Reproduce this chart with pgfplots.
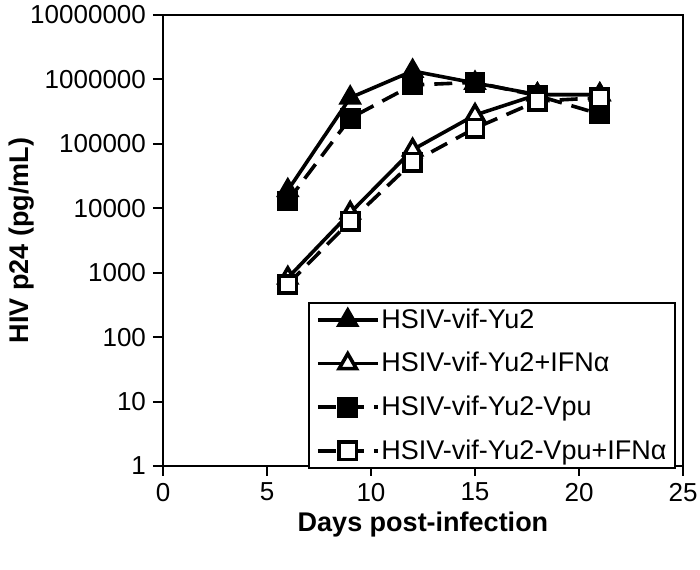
\documentclass[border=0pt]{standalone}
\usepackage{fontspec}
\setmainfont{Liberation Sans}
\usepackage{pgfplots}
\pgfplotsset{compat=1.18}
\begin{document}
\begin{tikzpicture}
\begin{axis}[
 name=ax,
 width=260pt, height=225.5pt, scale only axis,
 xmin=0, xmax=25, ymin=1, ymax=1e7, ymode=log, log basis y=10,
 xtick={0,5,10,15,20,25},
 ytick={1,10,100,1000,10000,100000,1000000,10000000},
 yticklabels={1,10,100,1000,10000,100000,1000000,10000000},
 minor tick num=0, minor ytick={},
 tick align=outside, tick pos=left,
 major tick length=5pt,
 every tick/.style={black, line width=1pt},
 axis line style={line width=1pt},
 /pgf/number format/assume math mode=true,
 tick label style={font=\fontsize{13}{15}\selectfont},
 label style={font=\fontsize{13.5}{16}\selectfont\bfseries},
 xlabel={Days post-infection}, ylabel={HIV p24 (pg/mL)},
 xlabel shift=-1.5pt, ylabel shift=-9pt,
 legend style={at={(0.279,0.364)}, anchor=north west, draw=black, line width=1pt,
   font=\fontsize{13.5}{15}\selectfont, row sep=6.5pt, inner xsep=3.5pt, inner ysep=1pt,
   nodes={inner xsep=1pt}},
 legend cell align=left,
 legend image code/.code={\draw[#1] (0cm,0cm) -- (1.05cm,0cm); \draw[#1,solid] plot coordinates {(0.525cm,0cm)};},
 every axis plot/.append style={line width=1.8pt},
]
\addplot[black, solid, mark=triangle*, mark size=5pt, mark options={solid, fill=black}]
 coordinates {(6,19000) (9,520000) (12,1350000) (15,880000) (18,580000) (21,580000)};
\addlegendentry{HSIV-vif-Yu2}
\addplot[black, solid, mark=triangle*, mark size=5pt, mark options={solid, fill=white}]
 coordinates {(6,830) (9,8500) (12,81000) (15,280000) (18,580000) (21,580000)};
\addlegendentry{HSIV-vif-Yu2+IFNα}
\addplot[black, dash pattern=on 9pt off 5pt, mark=square*, mark size=4.3pt, mark options={solid, fill=black}]
 coordinates {(6,13000) (9,250000) (12,820000) (15,900000) (18,560000) (21,290000)};
\addlegendentry{HSIV-vif-Yu2-Vpu}
\addplot[black, dash pattern=on 9pt off 5pt, mark=square*, mark size=4.3pt, mark options={solid, fill=white}]
 coordinates {(6,660) (9,6300) (12,52000) (15,175000) (18,460000) (21,520000)};
\addlegendentry{HSIV-vif-Yu2-Vpu+IFNα\hspace{7.5pt}}
\end{axis}
\pgfresetboundingbox
\path[use as bounding box] ([xshift=-81.5pt,yshift=-52pt]ax.south west) rectangle ([xshift=8.5pt,yshift=7.5pt]ax.north east);
\end{tikzpicture}
\end{document}
